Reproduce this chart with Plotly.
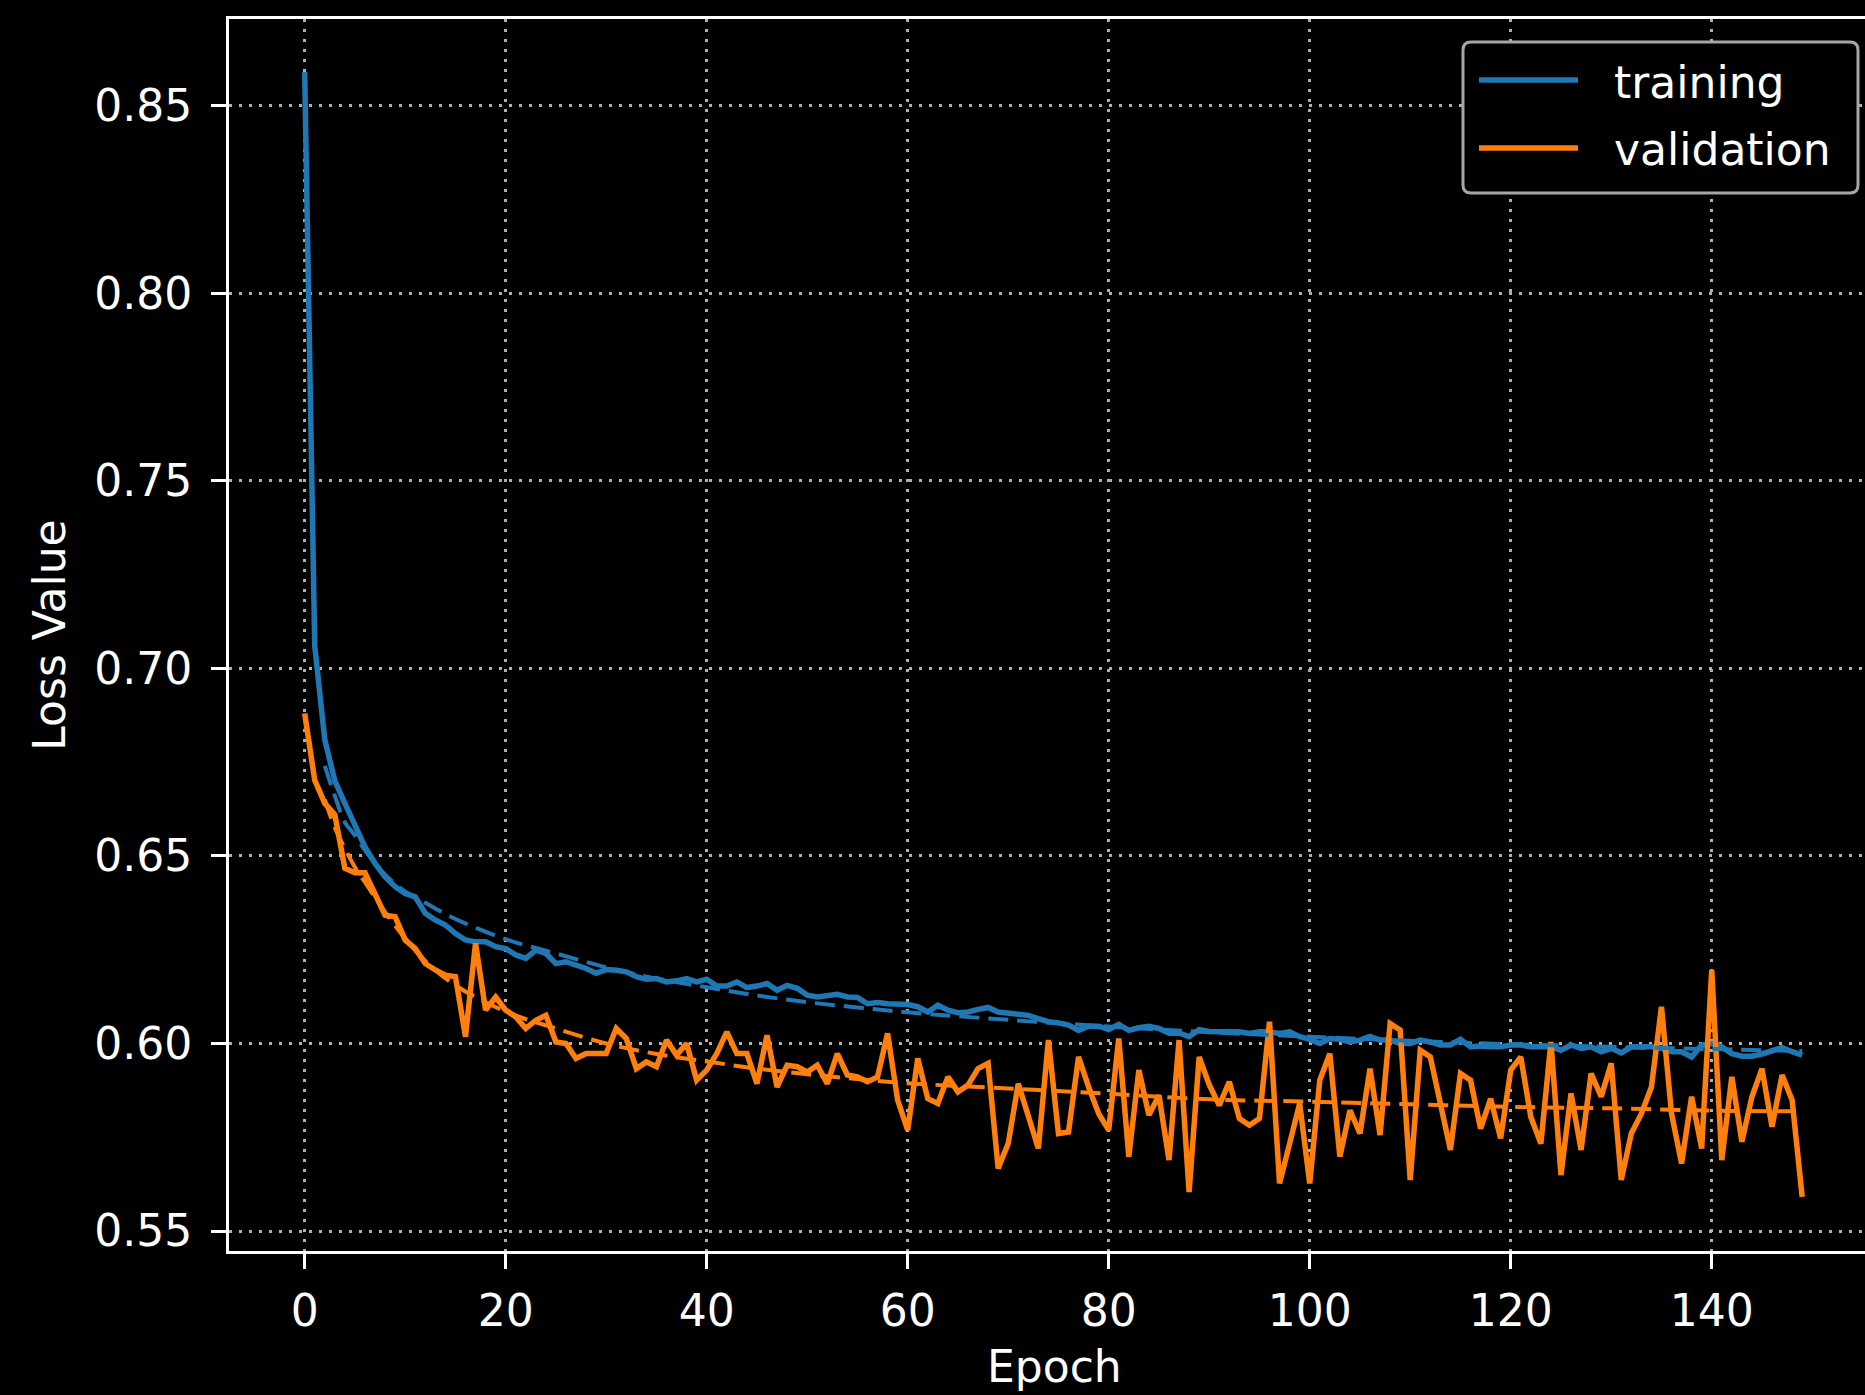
import plotly.graph_objects as go

epochs = list(range(150))

training = [
    0.859, 0.706, 0.681, 0.670, 0.664, 0.658, 0.6524, 0.648, 0.6444, 0.6418,
    0.640, 0.6391, 0.6347, 0.6329, 0.6316, 0.6293, 0.6276, 0.6271, 0.6271, 0.6258,
    0.6253, 0.6236, 0.6227, 0.6249, 0.6240, 0.6213, 0.6218, 0.6209, 0.6200, 0.6187,
    0.6197, 0.6195, 0.6191, 0.6178, 0.6171, 0.6173, 0.6164, 0.6167, 0.6173, 0.6164,
    0.6171, 0.6153, 0.6153, 0.6164, 0.6149, 0.6153, 0.6160, 0.6142, 0.6155, 0.6147,
    0.6129, 0.6124, 0.6127, 0.6131, 0.6124, 0.6123, 0.6106, 0.6109, 0.6106, 0.6105,
    0.6104, 0.6098, 0.6084, 0.6102, 0.6089, 0.6082, 0.6084, 0.6091, 0.6096, 0.6084,
    0.6080, 0.6078, 0.6075, 0.6066, 0.6058, 0.6055, 0.6049, 0.6035, 0.6046, 0.6046,
    0.6037, 0.6051, 0.6035, 0.6042, 0.6046, 0.6040, 0.6027, 0.6028, 0.6018, 0.6037,
    0.6032, 0.6031, 0.6031, 0.6031, 0.6027, 0.6031, 0.6031, 0.6027, 0.6031, 0.6018,
    0.6011, 0.6000, 0.6013, 0.6011, 0.6004, 0.6009, 0.6019, 0.6009, 0.6009, 0.6000,
    0.6000, 0.6009, 0.6004, 0.5996, 0.5996, 0.6011, 0.5991, 0.5993, 0.5991, 0.5991,
    0.5996, 0.5996, 0.5991, 0.5991, 0.5991, 0.5982, 0.5996, 0.5987, 0.5991, 0.5978,
    0.5987, 0.5975, 0.5991, 0.5991, 0.5991, 0.5987, 0.5978, 0.5978, 0.5964, 0.5996,
    0.6000, 0.5991, 0.5973, 0.5966, 0.5966, 0.5972, 0.5982, 0.5989, 0.5978, 0.5969,
]

validation = [
    0.688, 0.6702, 0.664, 0.661, 0.6467, 0.6455, 0.6455, 0.640, 0.6342, 0.6338,
    0.6276, 0.6253, 0.6213, 0.6196, 0.6182, 0.6178, 0.6018, 0.6267, 0.6089, 0.6124,
    0.6089, 0.6071, 0.6040, 0.6062, 0.6075, 0.6004, 0.6000, 0.5960, 0.5973, 0.5973,
    0.5973, 0.6040, 0.6013, 0.5933, 0.5951, 0.5938, 0.6009, 0.5969, 0.6000, 0.5902,
    0.5929, 0.5973, 0.6031, 0.5973, 0.5973, 0.5893, 0.6022, 0.5884, 0.5942, 0.5938,
    0.5924, 0.5942, 0.5893, 0.5973, 0.5916, 0.5911, 0.5898, 0.5911, 0.6027, 0.5849,
    0.5769, 0.5960, 0.5853, 0.5840, 0.5911, 0.5871, 0.5889, 0.5933, 0.5947, 0.5667,
    0.5733, 0.5893, 0.5804, 0.5720, 0.6009, 0.5760, 0.5764, 0.5964, 0.5884, 0.5813,
    0.5769, 0.6013, 0.5698, 0.5929, 0.5809, 0.5862, 0.5689, 0.6009, 0.5604, 0.5964,
    0.5890, 0.5835, 0.5898, 0.5800, 0.5782, 0.5800, 0.6058, 0.5627, 0.5733, 0.5840,
    0.5627, 0.5902, 0.5973, 0.5698, 0.5822, 0.5760, 0.5933, 0.5756, 0.6053, 0.6036,
    0.5636, 0.5982, 0.5964, 0.5840, 0.5716, 0.5920, 0.5902, 0.5773, 0.5853, 0.5747,
    0.5929, 0.5964, 0.5804, 0.5733, 0.6004, 0.5649, 0.5867, 0.5716, 0.5920, 0.5858,
    0.5947, 0.5636, 0.5760, 0.5813, 0.5884, 0.6098, 0.5813, 0.5680, 0.5858, 0.5720,
    0.6196, 0.5689, 0.5911, 0.5738, 0.5858, 0.5933, 0.5778, 0.5916, 0.5849, 0.5591,
]

trend_epochs = [2, 3, 4, 5, 6, 8, 10, 12, 15, 20, 25, 30, 35, 40, 45, 50, 55, 60,
                70, 80, 90, 100, 110, 120, 130, 140, 149]
training_trend = [0.674, 0.666, 0.659, 0.6555, 0.6515, 0.645, 0.6405, 0.6375, 0.6332,
                  0.6278, 0.6240, 0.6203, 0.6173, 0.6150, 0.6128, 0.6110, 0.6096, 0.6083,
                  0.6063, 0.6045, 0.6030, 0.6018, 0.6007, 0.5998, 0.5991, 0.5985, 0.5980]
validation_trend = [0.665, 0.6575, 0.652, 0.647, 0.643, 0.635, 0.628, 0.622, 0.6155,
                    0.6085, 0.6040, 0.6000, 0.5972, 0.5952, 0.5933, 0.5918, 0.5905, 0.5894,
                    0.5880, 0.5866, 0.5851, 0.5845, 0.5838, 0.5831, 0.5827, 0.5821, 0.5819]

series_names = ["training", "validation"]
x_ticks = [0, 20, 40, 60, 80, 100, 120, 140]
y_ticks = [0.55, 0.60, 0.65, 0.70, 0.75, 0.80, 0.85]

BLUE = "#1f77b4"
ORANGE = "#ff7f0e"
FONT = "DejaVu Sans"
FS = 44

W, H = 1865, 1395
ML, MR, MT, MB = 229, 0, 19, 144
PW, PH = W - ML - MR, H - MT - MB

fig = go.Figure()
fig.add_trace(go.Scatter(x=epochs, y=training, mode="lines", name=series_names[0],
                         line=dict(color=BLUE, width=5.5), showlegend=False))
fig.add_trace(go.Scatter(x=epochs, y=validation, mode="lines", name=series_names[1],
                         line=dict(color=ORANGE, width=5.5), showlegend=False))
fig.add_trace(go.Scatter(x=trend_epochs, y=training_trend, mode="lines", line_shape="spline",
                         line=dict(color=BLUE, width=4, dash="20px,9px"), showlegend=False))
fig.add_trace(go.Scatter(x=trend_epochs, y=validation_trend, mode="lines", line_shape="spline",
                         line=dict(color=ORANGE, width=4, dash="20px,9px"), showlegend=False))

# custom legend (pixel -> paper)
def px(xp):
    return (xp - ML) / PW

def py(yp):
    return (H - MB - yp) / PH

bx0, bx1, by0, by1 = 1463, 1858, 42, 193
r = 8
rx, ry = r / PW, r / PH
X0, X1, Y0, Y1 = px(bx0), px(bx1), py(by1), py(by0)
path = (f"M {X0+rx},{Y0} L {X1-rx},{Y0} Q {X1},{Y0} {X1},{Y0+ry} "
        f"L {X1},{Y1-ry} Q {X1},{Y1} {X1-rx},{Y1} L {X0+rx},{Y1} "
        f"Q {X0},{Y1} {X0},{Y1-ry} L {X0},{Y0+ry} Q {X0},{Y0} {X0+rx},{Y0} Z")
shapes = [dict(type="path", xref="paper", yref="paper", path=path,
               fillcolor="black", line=dict(color="#a6a6a6", width=3), layer="above")]
annotations = []
for name, color, ly in [(series_names[0], BLUE, 80), (series_names[1], ORANGE, 148)]:
    shapes.append(dict(type="line", xref="paper", yref="paper", x0=px(1479), x1=px(1578),
                       y0=py(ly), y1=py(ly), line=dict(color=color, width=5.5), layer="above"))
    annotations.append(dict(xref="paper", yref="paper", x=px(1612), y=py(ly + 2),
                            xanchor="left", yanchor="middle", text=name, showarrow=False,
                            font=dict(family=FONT, size=44, color="white")))

# x-axis title centred on the (wider, cropped) original axes
annotations.append(dict(xref="paper", yref="paper", x=px(1054), y=py(1366),
                        xanchor="center", yanchor="middle", text="Epoch", showarrow=False,
                        font=dict(family=FONT, size=FS, color="white")))

grid = dict(showgrid=True, gridcolor="#b0b0b0", gridwidth=2.5, griddash="3px,7px")

fig.update_layout(
    width=W, height=H,
    margin=dict(l=ML, r=MR, t=MT, b=MB, pad=0),
    paper_bgcolor="black", plot_bgcolor="black",
    font=dict(family=FONT, size=FS, color="white"),
    shapes=shapes, annotations=annotations,
    xaxis=dict(range=[-7.53, 155.25], tickvals=x_ticks, ticktext=[str(v) for v in x_ticks],
               showline=True, linecolor="white", linewidth=3, mirror=True,
               ticks="outside", ticklen=15, tickwidth=3, tickcolor="white",
               ticklabelstandoff=4, zeroline=False, **grid),
    yaxis=dict(range=[0.54467, 0.87315], tickvals=y_ticks, ticktext=[f"{v:.2f}" for v in y_ticks],
               showline=True, linecolor="white", linewidth=3, mirror=False,
               ticks="outside", ticklen=15, tickwidth=3, tickcolor="white",
               ticklabelstandoff=10, zeroline=False,
               title=dict(text="Loss Value", font=dict(size=FS), standoff=15), **grid),
)

fig.write_html(
    "out.html",
    config={"displayModeBar": False},
    post_script="document.body.style.margin='0';document.body.style.background='black';"
                "document.documentElement.style.background='black';"
)
